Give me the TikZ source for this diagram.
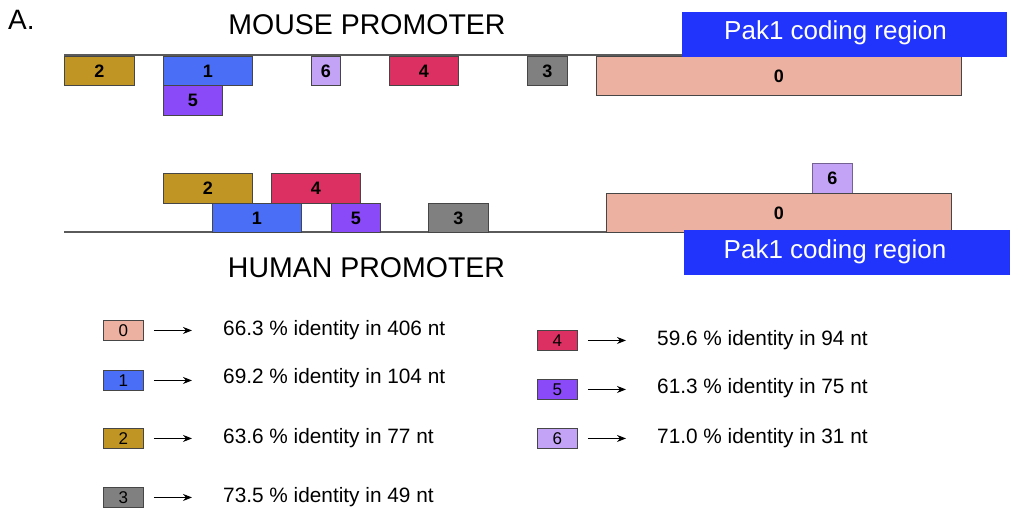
\documentclass[tikz,border=0pt]{standalone}
\usepackage{fontspec}
\setmainfont{Liberation Sans}
\usetikzlibrary{arrows.meta}

% segment colours
\definecolor{c0}{RGB}{236,177,160}
\definecolor{c1}{RGB}{74,110,246}
\definecolor{c2}{RGB}{192,149,36}
\definecolor{c3}{RGB}{128,128,128}
\definecolor{c4}{RGB}{220,48,98}
\definecolor{c5}{RGB}{138,74,247}
\definecolor{c6}{RGB}{194,163,245}
\definecolor{pak}{RGB}{32,52,252}
\definecolor{edge}{RGB}{70,70,70}
\definecolor{strand}{RGB}{90,90,90}

\tikzset{
  seg/.style={draw=edge, line width=0.9pt, anchor=north west, inner sep=0pt,
    font=\fontsize{18}{18}\selectfont\bfseries},
  keybox/.style={draw=edge, line width=0.9pt, anchor=north west, inner sep=0pt,
    minimum width=40pt, minimum height=20pt, font=\fontsize{17}{17}\selectfont},
  coding/.style={fill=pak, anchor=north west, inner sep=0pt},
  codingtext/.style={anchor=base, inner sep=0pt, text=white, font=\fontsize{26}{26}\selectfont},
  heading/.style={anchor=base, inner sep=0pt, font=\fontsize{28.5}{30}\selectfont},
  keytext/.style={anchor=base west, inner sep=0pt, font=\fontsize{20.8}{22}\selectfont},
  strandline/.style={draw=strand, line width=1.1pt},
  keyarrow/.style={-{Stealth[length=9pt,width=7pt]}, line width=1pt, black},
}

\begin{document}
\begin{tikzpicture}[x=1pt, y=-1pt]
\useasboundingbox (0,0) rectangle (1011,511);

% panel letter and headings
\node[anchor=base west, inner sep=0pt, font=\fontsize{28}{30}\selectfont] (panel) at (8,30) {A.};
\node[heading] (mousehead) at (367,35) {MOUSE PROMOTER};
\node[heading] (humanhead) at (366.5,277) {HUMAN PROMOTER};

% ---- mouse promoter ----
\coordinate (mstart) at (64,55);
\coordinate (mend) at (961,55);
\draw[strandline] (mstart) -- (mend);
\node[seg, fill=c2, minimum width=70pt, minimum height=29pt] (m2) at (64,56) {2};
\node[seg, fill=c1, minimum width=89pt, minimum height=29pt] (m1) at (163,56) {1};
\node[seg, fill=c5, minimum width=59pt, minimum height=30pt] (m5) at (163,85) {5};
\node[seg, fill=c6, minimum width=29pt, minimum height=29pt] (m6) at (311,56) {6};
\node[seg, fill=c4, minimum width=69pt, minimum height=29pt] (m4) at (389,56) {4};
\node[seg, fill=c3, minimum width=40pt, minimum height=29pt] (m3) at (527,56) {3};
\node[seg, fill=c0, minimum width=365pt, minimum height=39pt] (m0) at (596,56) {0};
\node[coding, minimum width=325pt, minimum height=45pt] (mpak) at (682,12) {};
\node[codingtext] (mpaktext) at (835.5,40) {Pak1 coding region};

% ---- human promoter ----
\coordinate (hstart) at (64,232);
\coordinate (hend) at (951,232);
\draw[strandline] (hstart) -- (hend);
\node[seg, fill=c2, minimum width=89pt, minimum height=30pt] (h2) at (163,173) {2};
\node[seg, fill=c4, minimum width=89pt, minimum height=30pt] (h4) at (271,173) {4};
\node[seg, fill=c1, minimum width=89pt, minimum height=29pt] (h1) at (212,203) {1};
\node[seg, fill=c5, minimum width=49pt, minimum height=29pt] (h5) at (331,203) {5};
\node[seg, fill=c3, minimum width=60pt, minimum height=29pt] (h3) at (428,203) {3};
\node[seg, fill=c6, draw=c6!60!black, minimum width=40pt, minimum height=30pt] (h6) at (812,163) {6};
\node[seg, fill=c0, minimum width=345pt, minimum height=39pt] (h0) at (606,193) {0};
\node[coding, minimum width=326pt, minimum height=45pt] (hpak) at (684,230) {};
\node[codingtext] (hpaktext) at (835,258) {Pak1 coding region};

% ---- key ----
\node[keybox, fill=c0] (k0) at (103,320) {0};
\node[keybox, fill=c1] (k1) at (103,370) {1};
\node[keybox, fill=c2] (k2) at (103,428) {2};
\node[keybox, fill=c3] (k3) at (103,487) {3};
\node[keybox, fill=c4] (k4) at (537,330) {4};
\node[keybox, fill=c5] (k5) at (537,379) {5};
\node[keybox, fill=c6] (k6) at (537,428) {6};

\node[keytext] (t0) at (223,335) {66.3 \% identity in 406 nt};
\node[keytext] (t1) at (223,383) {69.2 \% identity in 104 nt};
\node[keytext] (t2) at (223,443) {63.6 \% identity in 77 nt};
\node[keytext] (t3) at (223,502) {73.5 \% identity in 49 nt};
\node[keytext] (t4) at (657,345) {59.6 \% identity in 94 nt};
\node[keytext] (t5) at (657,393) {61.3 \% identity in 75 nt};
\node[keytext] (t6) at (657,443) {71.0 \% identity in 31 nt};

% key arrows from each swatch towards its description
\foreach \k in {0,1,2,3,4,5,6}{
  \draw[keyarrow, shorten <=10pt, shorten >=31pt] (k\k.east) -- (k\k.east -| t\k.west);
}
\end{tikzpicture}
\end{document}
